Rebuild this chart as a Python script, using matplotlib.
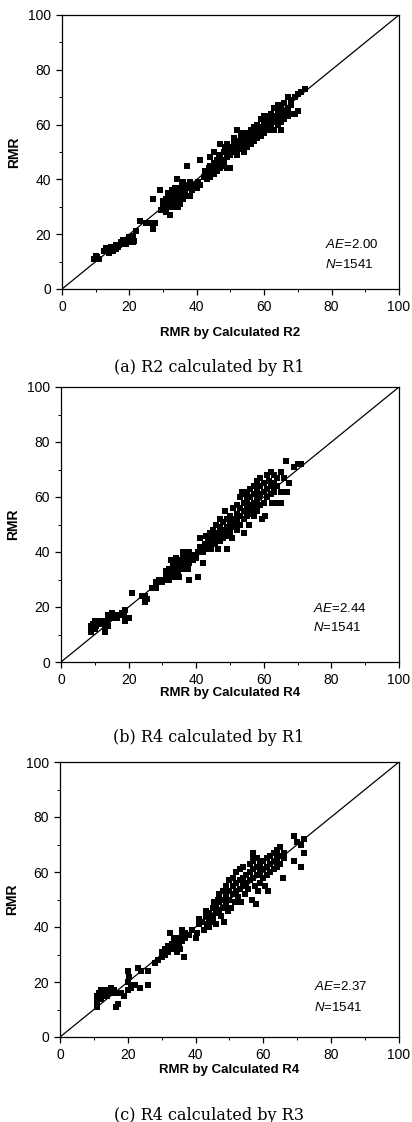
import numpy as np
import matplotlib
matplotlib.use("Agg")
import matplotlib.pyplot as plt
from matplotlib.ticker import MultipleLocator

plt.rcParams["font.family"] = ["Liberation Sans", "DejaVu Sans"]
plt.rcParams["mathtext.fontset"] = "custom"
plt.rcParams["mathtext.it"] = "Liberation Sans:italic"
plt.rcParams["mathtext.rm"] = "Liberation Sans"

# (x = RMR by calculated, y = RMR)
pts_a = [
    (9.5, 11), (10, 12), (10.5, 11.5), (11, 11), (12.5, 14), (13, 15), (13.5, 14.5), (14, 13),
    (14.5, 15.5), (15, 14), (15.5, 15), (16, 16), (16, 14.5), (16.5, 15.5), (17, 16), (17.5, 17),
    (18, 16.5), (18, 18), (18.5, 17.5), (19, 16.5), (19.5, 18), (20, 19), (20, 17), (20.5, 18.5),
    (21, 17), (21, 19.5), (21.5, 17.5), (22, 21), (23, 25), (25, 24), (26, 24), (27, 22),
    (27.5, 24), (27, 33), (29, 36), (29.5, 29), (30, 30), (30, 32), (30.5, 31), (31, 28),
    (31, 33), (31.5, 30), (31.5, 35), (32, 27), (32, 32), (32, 34), (32.5, 36), (33, 30),
    (33, 33), (33, 35), (33.5, 31), (33.5, 37), (34, 32), (34, 34), (34, 36), (34, 40),
    (34.5, 30), (34.5, 33), (35, 35), (35, 37), (35, 31), (35.5, 34), (35.5, 38), (36, 33),
    (36, 36), (36, 39), (36.5, 35), (37, 45), (37, 37), (37, 34), (37.5, 38), (38, 34),
    (38, 39), (38.5, 36), (39, 38), (40, 37), (40.5, 39), (41, 47), (41, 38), (42, 41),
    (42.5, 43), (43, 40), (43, 42), (43.5, 44), (44, 41), (44, 45), (44, 48), (44.5, 43),
    (45, 42), (45, 46), (45, 50), (45.5, 44), (46, 45), (46, 47), (46, 43), (46.5, 49),
    (47, 44), (47, 46), (47, 48), (47, 53), (47.5, 45), (48, 47), (48, 50), (48, 46),
    (48.5, 52), (49, 48), (49, 53), (49, 44), (49.5, 50), (50, 49), (50, 51), (50, 44),
    (50.5, 52), (51, 50), (51, 53), (51, 55), (51.5, 51), (52, 49), (52, 52), (52, 54),
    (52, 58), (52.5, 53), (53, 51), (53, 55), (53, 57), (53.5, 52), (54, 50), (54, 53),
    (54, 56), (54.5, 54), (55, 52), (55, 55), (55, 57), (55.5, 54), (56, 53), (56, 56),
    (56, 58), (56.5, 55), (57, 54), (57, 57), (57, 59), (57.5, 56), (58, 55), (58, 58),
    (58, 60), (58.5, 57), (59, 56), (59, 59), (59, 62), (59.5, 58), (60, 57), (60, 60),
    (60, 62), (60, 63), (60.5, 59), (61, 58), (61, 61), (61, 63), (61.5, 60), (62, 59),
    (62, 62), (62, 64), (62.5, 61), (63, 58), (63, 61), (63, 63), (63, 66), (63.5, 62),
    (64, 60), (64, 63), (64, 65), (64, 67), (64.5, 62), (65, 61), (65, 64), (65, 66),
    (65, 58), (65.5, 63), (66, 62), (66, 65), (66, 68), (66.5, 64), (67, 63), (67, 66),
    (67, 70), (68, 64), (68, 67), (68, 69), (69, 64), (69, 70), (70, 71), (71, 72),
    (72, 73), (70, 65),
]

pts_b = [
    (9, 11), (9, 12), (9, 13), (9.5, 14), (10, 12), (10, 15), (10.5, 13), (11, 14),
    (11, 15), (12, 15), (12.5, 14), (13, 12), (13, 11), (13.5, 15), (14, 13), (14, 17),
    (14.5, 16), (15, 18), (15, 16), (16, 17), (16.5, 16), (17, 17), (17.5, 17), (18, 18),
    (18.5, 17), (19, 19), (19, 15), (19.5, 16), (20, 16), (21, 25), (24, 24), (25, 24),
    (25, 22), (25.5, 23), (27, 27), (28, 27), (28, 29), (29, 30), (30, 29), (30.5, 30),
    (31, 31), (31, 33), (32, 30), (32, 32), (32, 34), (32.5, 37), (33, 31), (33, 33),
    (33, 35), (33.5, 32), (34, 34), (34, 36), (34, 38), (34.5, 33), (35, 35), (35, 37),
    (35, 31), (35.5, 36), (36, 34), (36, 38), (36, 40), (38, 30), (37, 35), (37, 37),
    (37, 39), (37.5, 34), (38, 36), (38, 40), (38.5, 38), (39, 37), (39, 39), (40, 38),
    (40.5, 31), (40.5, 40), (41, 42), (41, 45), (42, 36), (42, 40), (42.5, 43), (43, 41),
    (43, 46), (43.5, 44), (44, 42), (44, 45), (44, 47), (44.5, 41), (45, 44), (45, 46),
    (45, 48), (45.5, 43), (46, 45), (46, 47), (46, 50), (46.5, 41), (47, 44), (47, 46),
    (47, 49), (47, 52), (47.5, 47), (48, 45), (48, 48), (48, 51), (48.5, 55), (49, 46),
    (49, 49), (49, 52), (49, 41), (49.5, 48), (50, 47), (50, 50), (50, 53), (50.5, 45),
    (51, 49), (51, 52), (51, 56), (51.5, 50), (52, 48), (52, 51), (52, 54), (52, 57),
    (52.5, 53), (53, 50), (53, 53), (53, 56), (53, 60), (53.5, 62), (54, 52), (54, 55),
    (54, 58), (54, 47), (54.5, 61), (55, 53), (55, 56), (55, 59), (55, 62), (55.5, 50),
    (56, 54), (56, 57), (56, 60), (56, 63), (56.5, 55), (57, 53), (57, 58), (57, 61),
    (57, 64), (57.5, 56), (58, 55), (58, 59), (58, 62), (58, 66), (58.5, 60), (59, 57),
    (59, 61), (59, 64), (59, 67), (59.5, 52), (60, 58), (60, 62), (60, 65), (60.5, 53),
    (61, 60), (61, 63), (61, 68), (61.5, 66), (62, 61), (62, 64), (62, 69), (62.5, 58),
    (63, 62), (63, 65), (63, 68), (64, 58), (64, 64), (64, 67), (65, 62), (65, 69),
    (66, 67), (65, 58), (66.5, 73), (67, 62), (67.5, 65), (69, 71), (70, 72), (71, 72),
]

pts_c = [
    (11, 11), (11, 13), (11, 15), (11.5, 16), (12, 14), (12, 17), (12.5, 15), (13, 16),
    (13.5, 17), (14, 15), (14, 16), (15, 17), (15, 18), (15.5, 16), (16, 17), (16.5, 11),
    (17, 12), (17, 16), (18, 16), (19, 15), (20, 17), (20, 20), (20, 24), (20.5, 22),
    (21, 18), (21, 19), (22, 19), (23, 25), (23.5, 18), (24, 24), (26, 19), (26, 24),
    (28, 27), (29, 28), (30, 29), (30, 31), (31, 32), (31, 30), (32, 33), (32, 31),
    (32.5, 38), (33, 34), (33, 32), (33.5, 36), (34, 33), (34, 35), (34.5, 31), (35, 36),
    (35, 34), (35.5, 32), (36, 37), (36, 35), (36, 39), (36.5, 29), (37, 36), (37, 38),
    (38, 37), (39, 39), (40, 36), (40.5, 38), (41, 41), (41, 43), (42, 42), (42.5, 39),
    (43, 44), (43, 46), (43.5, 41), (44, 43), (44, 45), (44, 40), (45, 44), (45, 47),
    (45, 42), (45.5, 49), (46, 45), (46, 48), (46, 41), (46.5, 50), (47, 46), (47, 49),
    (47, 52), (47.5, 44), (48, 47), (48, 50), (48, 53), (48.5, 42), (49, 48), (49, 51),
    (49, 55), (49.5, 46), (50, 50), (50, 53), (50, 57), (50.5, 47), (51, 52), (51, 55),
    (51, 58), (51.5, 49), (52, 53), (52, 56), (52, 60), (52.5, 51), (53, 54), (53, 57),
    (53, 61), (53.5, 49), (54, 55), (54, 58), (54, 62), (54.5, 52), (55, 56), (55, 59),
    (57, 67), (57, 65), (55.5, 54), (56, 57), (56, 60), (56, 63), (56.5, 50), (57, 58),
    (57, 61), (57, 64), (57.8, 48.5), (57.5, 55), (58, 59), (58, 62), (58, 65), (58.5, 53),
    (59, 60), (59, 63), (59, 56), (60, 61), (60, 64), (60, 58), (60.5, 55), (61, 62),
    (61, 65), (61, 59), (61.5, 53), (62, 63), (62, 66), (62, 60), (63, 64), (63, 67),
    (63, 61), (64, 65), (64, 68), (64, 62), (65, 66), (65, 69), (65, 63), (65.9, 58),
    (66, 67), (66, 65), (69, 73), (69, 64), (71, 62), (71, 70), (72, 72), (72, 67),
    (70, 71),
]

ae_values = ["2.00", "2.44", "2.37"]
n_count = 1541
x_labels = ["RMR by Calculated R2", "RMR by Calculated R4", "RMR by Calculated R4"]
captions = ["(a) R2 calculated by R1", "(b) R4 calculated by R1", "(c) R4 calculated by R3"]
all_pts = [pts_a, pts_b, pts_c]

W, H = 412, 1122
fig = plt.figure(figsize=(W / 100, H / 100), dpi=100)

# axes boxes in pixels: left, top, right, bottom
boxes = [(62, 15, 399, 289), (61, 387, 399, 662), (60, 762, 399, 1037)]
xlab_y = [333, 693, 1070]
cap_y = [368, 738, 1115]
ae_pos = [(78, 16.4, 9.1), (74.5, 19.6, 12.4), (75, 18.2, 10.9)]

for i, pts in enumerate(all_pts):
    l, t, r, b = boxes[i]
    ax = fig.add_axes([l / W, 1 - b / H, (r - l) / W, (b - t) / H])
    arr = np.array(pts)
    ax.plot([0, 100], [0, 100], color="black", lw=0.9, zorder=1)
    ax.scatter(arr[:, 0], arr[:, 1], marker="s", s=15, color="black", lw=0, zorder=2)
    ax.set_xlim(0, 100)
    ax.set_ylim(0, 100)
    ax.xaxis.set_major_locator(MultipleLocator(20))
    ax.yaxis.set_major_locator(MultipleLocator(20))
    ax.xaxis.set_minor_locator(MultipleLocator(10))
    ax.yaxis.set_minor_locator(MultipleLocator(10))
    ax.tick_params(which="major", direction="out", length=4, width=0.9, labelsize=10, pad=4)
    ax.tick_params(which="minor", direction="out", length=2, width=0.7)
    for sp in ax.spines.values():
        sp.set_linewidth(0.9)
    ax.set_ylabel("RMR", fontsize=10, fontweight="bold", labelpad=5)
    ax.text(0.5, 1 - (xlab_y[i] - t) / (b - t), x_labels[i], transform=ax.transAxes,
            ha="center", va="center", fontsize=9.5, fontweight="bold")
    xa, ya, yn = ae_pos[i]
    ax.text(xa, ya, r"$\mathit{AE}$=" + ae_values[i], fontsize=9.5, va="center", ha="left")
    ax.text(xa, yn, r"$\mathit{N}$=" + str(n_count), fontsize=9.5, va="center", ha="left")
    fig.text(209 / W, 1 - cap_y[i] / H, captions[i], ha="center", va="center",
             fontsize=11.5, family="DejaVu Serif")

fig.savefig("out.png", dpi=100)
